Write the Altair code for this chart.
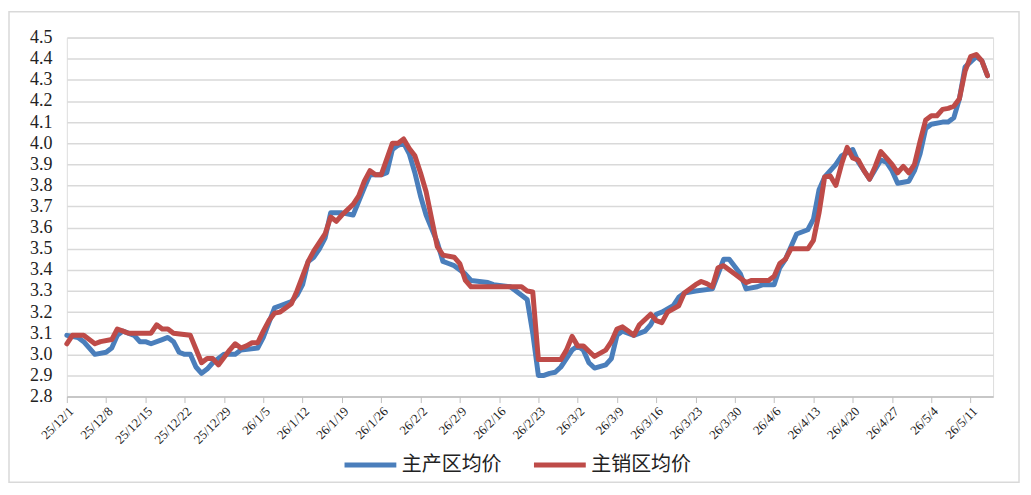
import altair as alt
import pandas as pd

# ---- data ----
tick_labels = ["25/12/1", "25/12/8", "25/12/15", "25/12/22", "25/12/29", "26/1/5",
               "26/1/12", "26/1/19", "26/1/26", "26/2/2", "26/2/9", "26/2/16",
               "26/2/23", "26/3/2", "26/3/9", "26/3/16", "26/3/23", "26/3/30",
               "26/4/6", "26/4/13", "26/4/20", "26/4/27", "26/5/4", "26/5/11"]
tick_days = [0, 7, 14, 21, 28, 35, 42, 49, 56, 63, 70, 77, 84, 91, 98, 105,
             112, 119, 126, 133, 140, 147, 154, 161]
y_ticks = [2.8, 2.9, 3.0, 3.1, 3.2, 3.3, 3.4, 3.5, 3.6, 3.7, 3.8, 3.9,
           4.0, 4.1, 4.2, 4.3, 4.4, 4.5]

series_names = ["主产区均价", "主销区均价"]
series_colors = ["#4A7EBB", "#BE4B48"]

# days since 2025/12/1
prod_days = [0, 2, 3, 5, 7, 8, 9, 10, 12, 13, 14, 15, 17, 18, 19, 20, 21, 22, 23, 24,
             25, 26, 28, 30, 31, 34, 35, 36, 37, 38, 40, 41, 42, 43, 44, 45, 46, 47, 49,
             51, 53, 54, 56, 57, 58, 59, 60, 61, 62, 63, 64, 66, 67, 68, 69, 71, 72, 75,
             76, 79, 80, 81, 82, 83, 84, 85, 86, 87, 88, 90, 91, 92, 93, 94, 96, 97, 98,
             99, 101, 103, 104, 105, 106, 108, 109, 110, 112, 115, 117, 118, 120, 121,
             123, 124, 126, 127, 128, 130, 132, 133, 134, 135, 137, 138, 140, 141, 142,
             143, 145, 146, 147, 148, 150, 151, 152, 153, 154, 156, 157, 158, 159, 160,
             162, 163, 164]
prod_vals = [3.09, 3.08, 3.06, 3.00, 3.01, 3.03, 3.09, 3.11, 3.09, 3.06, 3.06, 3.05, 3.07,
             3.08, 3.06, 3.01, 3.00, 3.00, 2.94, 2.91, 2.93, 2.96, 3.00, 3.00, 3.02, 3.03,
             3.08, 3.15, 3.22, 3.23, 3.25, 3.28, 3.33, 3.44, 3.46, 3.50, 3.55, 3.67, 3.67,
             3.66, 3.79, 3.85, 3.85, 3.86, 3.97, 3.99, 4.00, 3.95, 3.86, 3.75, 3.66, 3.53,
             3.44, 3.43, 3.42, 3.38, 3.35, 3.34, 3.33, 3.32, 3.30, 3.28, 3.26, 3.10, 2.90,
             2.90, 2.91, 2.915, 2.94, 3.02, 3.04, 3.02, 2.96, 2.935, 2.95, 2.98, 3.09, 3.11,
             3.09, 3.11, 3.14, 3.19, 3.20, 3.23, 3.27, 3.29, 3.30, 3.31, 3.45, 3.45, 3.38,
             3.31, 3.32, 3.33, 3.33, 3.41, 3.45, 3.57, 3.59, 3.64, 3.78, 3.84, 3.90, 3.94,
             3.97, 3.91, 3.87, 3.83, 3.92, 3.91, 3.87, 3.81, 3.82, 3.87, 3.95, 4.07, 4.09,
             4.10, 4.10, 4.12, 4.21, 4.36, 4.41, 4.39, 4.32]

sale_days = [0, 1, 3, 5, 6, 8, 9, 10, 11, 15, 16, 17, 18, 19, 22, 24, 25, 26, 27, 29, 30,
             31, 32, 33, 34, 35, 36, 37, 38, 40, 41, 42, 43, 44, 45, 46, 47, 48, 49, 51,
             52, 53, 54, 55, 56, 58, 59, 60, 61, 62, 63, 64, 65, 66, 67, 69, 70, 71, 72,
             81, 82, 83, 84, 88, 89, 90, 91, 92, 94, 96, 97, 98, 99, 100, 101, 102, 104,
             105, 106, 107, 109, 110, 112, 113, 114, 115, 116, 117, 119, 121, 122, 125,
             126, 127, 128, 129, 132, 133, 134, 135, 136, 137, 138, 139, 140, 141, 142,
             143, 144, 145, 146, 147, 148, 149, 150, 151, 152, 153, 154, 155, 156, 157,
             158, 159, 160, 161, 162, 163, 164]
sale_vals = [3.05, 3.09, 3.09, 3.05, 3.06, 3.07, 3.12, 3.11, 3.10, 3.10, 3.14, 3.12, 3.12,
             3.10, 3.09, 2.96, 2.98, 2.98, 2.95, 3.02, 3.05, 3.03, 3.04, 3.055, 3.055, 3.11,
             3.16, 3.195, 3.20, 3.24, 3.30, 3.37, 3.44, 3.49, 3.53, 3.57, 3.65, 3.63, 3.66,
             3.71, 3.75, 3.82, 3.87, 3.85, 3.85, 4.00, 4.00, 4.02, 3.975, 3.94, 3.86, 3.77,
             3.64, 3.51, 3.47, 3.46, 3.43, 3.35, 3.32, 3.32, 3.30, 3.295, 2.975, 2.975, 3.02,
             3.085, 3.04, 3.04, 2.99, 3.02, 3.06, 3.12, 3.13, 3.11, 3.09, 3.14, 3.19, 3.16,
             3.15, 3.20, 3.23, 3.29, 3.33, 3.345, 3.335, 3.32, 3.41, 3.42, 3.38, 3.34, 3.35,
             3.35, 3.37, 3.43, 3.45, 3.50, 3.50, 3.54, 3.67, 3.84, 3.845, 3.80, 3.90, 3.98,
             3.93, 3.92, 3.87, 3.83, 3.89, 3.96, 3.93, 3.90, 3.86, 3.89, 3.86, 3.90, 4.01,
             4.11, 4.13, 4.13, 4.16, 4.165, 4.175, 4.21, 4.34, 4.41, 4.42, 4.39, 4.32]

# ---- build tables ----
df_prod = pd.DataFrame({"day": prod_days, "price": prod_vals, "series": series_names[0]})
df_sale = pd.DataFrame({"day": sale_days, "price": sale_vals, "series": series_names[1]})

label_expr = "[" + ",".join("'" + s + "'" for s in tick_labels) + "][round(datum.value/7)]"

x_enc = alt.X("day:Q",
              scale=alt.Scale(domain=[0, 165], nice=False, zero=False),
              axis=alt.Axis(values=tick_days, labelExpr=label_expr, labelAngle=-45,
                            grid=False, domain=True, domainColor="#bfbfbf",
                            domainWidth=1.5, ticks=True, tickColor="#bfbfbf",
                            tickSize=6, labelFont="Liberation Serif", labelFontSize=13,
                            labelColor="#222222", labelPadding=2, title=None,
                            labelOverlap=False))
y_enc = alt.Y("price:Q",
              scale=alt.Scale(domain=[2.8, 4.5], nice=False, zero=False),
              axis=alt.Axis(values=y_ticks, format=".1f", grid=True, gridColor="#d9d9d9",
                            gridWidth=1.5, domain=False, ticks=False,
                            labelFont="Liberation Serif", labelFontSize=18,
                            labelColor="#222222", labelPadding=15, title=None,
                            labelOverlap=False))
color_enc = alt.Color("series:N",
                      scale=alt.Scale(domain=series_names, range=series_colors),
                      legend=alt.Legend(title=None, orient="none", legendX=276, legendY=400,
                                        direction="horizontal", symbolType="stroke",
                                        symbolSize=2700, symbolStrokeWidth=5,
                                        labelFont="Noto Sans CJK SC", labelFontSize=20,
                                        labelColor="#222222", labelOffset=3,
                                        columnPadding=22, padding=0))

line_prod = alt.Chart(df_prod).mark_line(strokeWidth=5, strokeJoin="round",
                                         strokeCap="round").encode(
    x=x_enc, y=y_enc, color=color_enc)
line_sale = alt.Chart(df_sale).mark_line(strokeWidth=5, strokeJoin="round",
                                         strokeCap="round").encode(
    x=x_enc, y=y_enc, color=color_enc)

frame = alt.Chart(pd.DataFrame({"k": [0]})).mark_rect(
    filled=False, stroke="#d9d9d9", strokeWidth=1.5).encode(
    x=alt.value(-58), x2=alt.value(955), y=alt.value(-26), y2=alt.value(446))

chart = alt.layer(frame, line_prod, line_sale).properties(
    width=929, height=360,
    autosize=alt.AutoSizeParams(type="none"),
    padding={"left": 59, "top": 29, "right": 30, "bottom": 90},
).configure_view(stroke=None).configure(background="white")

chart.save("out.html", embed_options={"renderer": "svg", "actions": False})
